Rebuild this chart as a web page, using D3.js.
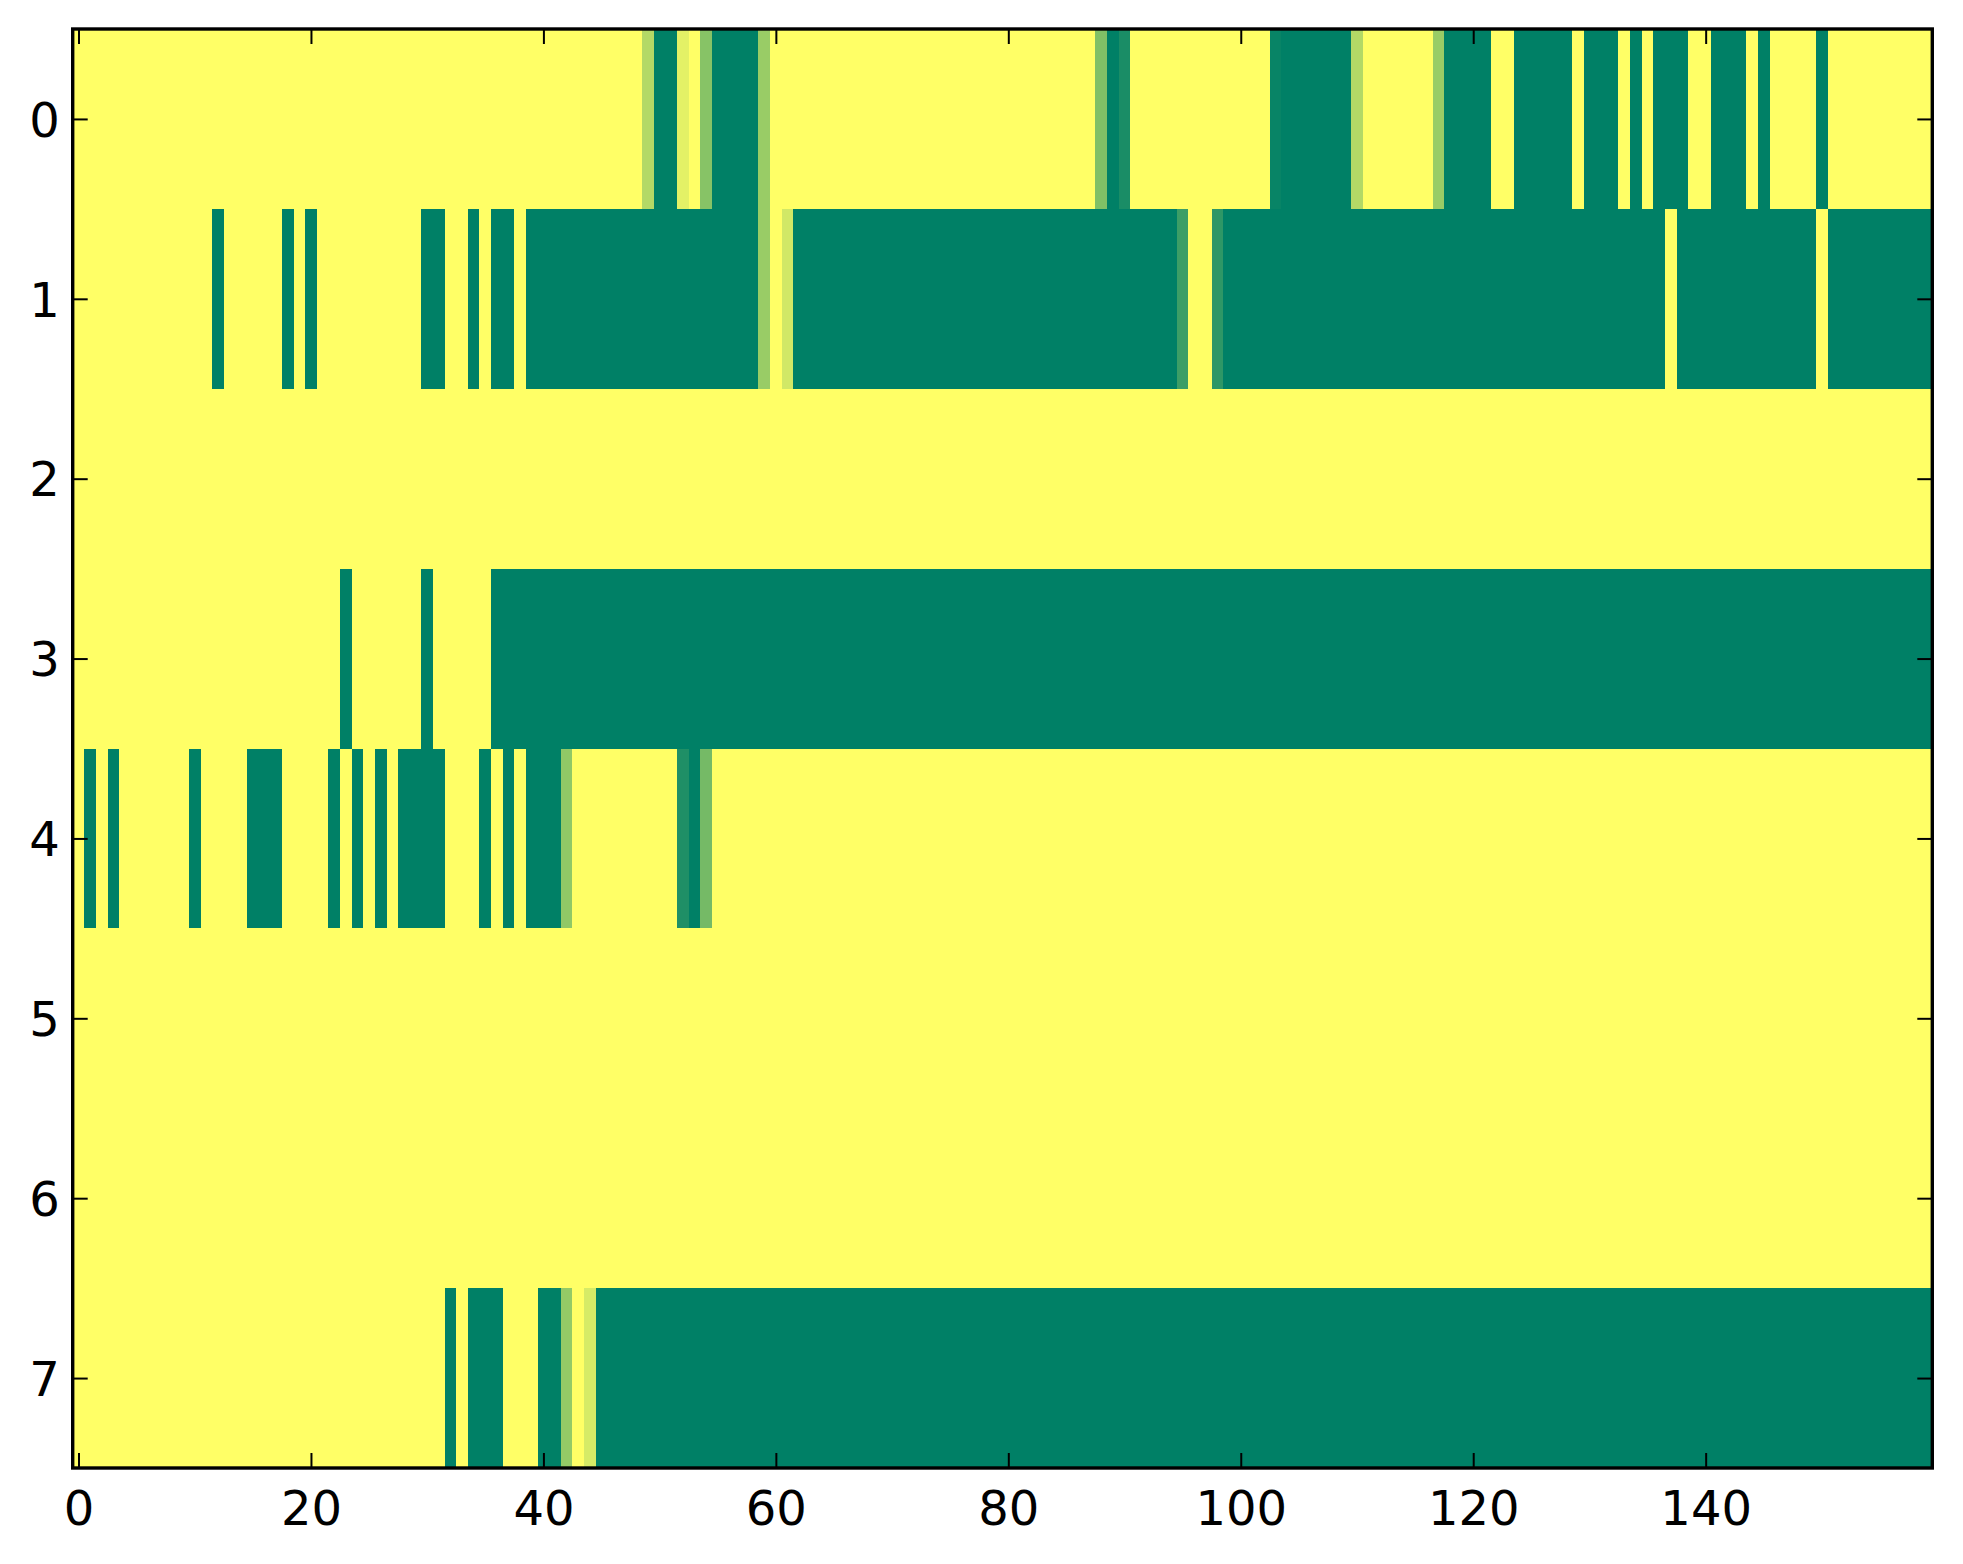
<!DOCTYPE html>
<html>
<head>
<meta charset="utf-8">
<script src="https://cdn.jsdelivr.net/npm/d3@7"></script>
<style>
  html, body { margin: 0; padding: 0; background: #ffffff; }
  svg { display: block; }
  text { font-family: "DejaVu Sans", sans-serif; }
</style>
</head>
<body>
<svg id="chart" width="1963" height="1564"></svg>
<script>
// ---- data (value 0 = green, 1 = yellow; "summer" colormap) ----
const rowLabels = [0, 1, 2, 3, 4, 5, 6, 7];
const xTickValues = [0, 20, 40, 60, 80, 100, 120, 140];

const row0 = [
  1,1,1,1,1,1,1,1,1,1,1,1,1,1,1,1,1,1,1,1,
  1,1,1,1,1,1,1,1,1,1,1,1,1,1,1,1,1,1,1,1,
  1,1,1,1,1,1,1,1,1,0.7,0,0,0.89,1,0.53,0,0,0,0,0.6,
  1,1,1,1,1,1,1,1,1,1,1,1,1,1,1,1,1,1,1,1,
  1,1,1,1,1,1,1,1,0.5,0,0.1,1,1,1,1,1,1,1,1,1,
  1,1,1,0.03,0,0,0,0,0,0,0.7,1,1,1,1,1,1,0.6,0,0,
  0,0,1,1,0,0,0,0,0,1,0,0,0,1,0,1,0,0,0,1,
  1,0,0,0,1,0,1,1,1,1,0,1,1,1,1,1,1,1,1,1
];
const row1 = [
  1,1,1,1,1,1,1,1,1,1,1,1,0,1,1,1,1,1,0,1,
  0,1,1,1,1,1,1,1,1,1,0,0,1,1,0,1,0,0,1,0,
  0,0,0,0,0,0,0,0,0,0,0,0,0,0,0,0,0,0,0,0.6,
  1,0.82,0,0,0,0,0,0,0,0,0,0,0,0,0,0,0,0,0,0,
  0,0,0,0,0,0,0,0,0,0,0,0,0,0,0,0.24,1,1,0.18,0,
  0,0,0,0,0,0,0,0,0,0,0,0,0,0,0,0,0,0,0,0,
  0,0,0,0,0,0,0,0,0,0,0,0,0,0,0,0,0,1,0,0,
  0,0,0,0,0,0,0,0,0,0,1,0,0,0,0,0,0,0,0,0
];
const row2 = [
  1,1,1,1,1,1,1,1,1,1,1,1,1,1,1,1,1,1,1,1,
  1,1,1,1,1,1,1,1,1,1,1,1,1,1,1,1,1,1,1,1,
  1,1,1,1,1,1,1,1,1,1,1,1,1,1,1,1,1,1,1,1,
  1,1,1,1,1,1,1,1,1,1,1,1,1,1,1,1,1,1,1,1,
  1,1,1,1,1,1,1,1,1,1,1,1,1,1,1,1,1,1,1,1,
  1,1,1,1,1,1,1,1,1,1,1,1,1,1,1,1,1,1,1,1,
  1,1,1,1,1,1,1,1,1,1,1,1,1,1,1,1,1,1,1,1,
  1,1,1,1,1,1,1,1,1,1,1,1,1,1,1,1,1,1,1,1
];
const row3 = [
  1,1,1,1,1,1,1,1,1,1,1,1,1,1,1,1,1,1,1,1,
  1,1,1,0,1,1,1,1,1,1,0,1,1,1,1,1,0,0,0,0,
  0,0,0,0,0,0,0,0,0,0,0,0,0,0,0,0,0,0,0,0,
  0,0,0,0,0,0,0,0,0,0,0,0,0,0,0,0,0,0,0,0,
  0,0,0,0,0,0,0,0,0,0,0,0,0,0,0,0,0,0,0,0,
  0,0,0,0,0,0,0,0,0,0,0,0,0,0,0,0,0,0,0,0,
  0,0,0,0,0,0,0,0,0,0,0,0,0,0,0,0,0,0,0,0,
  0,0,0,0,0,0,0,0,0,0,0,0,0,0,0,0,0,0,0,0
];
const row4 = [
  1,0,1,0,1,1,1,1,1,1,0,1,1,1,1,0,0,0,1,1,
  1,1,0,1,0,1,0,1,0,0,0,0,1,1,1,0,1,0,1,0,
  0,0,0.57,1,1,1,1,1,1,1,1,1,0.12,0,0.46,1,1,1,1,1,
  1,1,1,1,1,1,1,1,1,1,1,1,1,1,1,1,1,1,1,1,
  1,1,1,1,1,1,1,1,1,1,1,1,1,1,1,1,1,1,1,1,
  1,1,1,1,1,1,1,1,1,1,1,1,1,1,1,1,1,1,1,1,
  1,1,1,1,1,1,1,1,1,1,1,1,1,1,1,1,1,1,1,1,
  1,1,1,1,1,1,1,1,1,1,1,1,1,1,1,1,1,1,1,1
];
const row5 = row2.slice();
const row6 = row2.slice();
const row7 = [
  1,1,1,1,1,1,1,1,1,1,1,1,1,1,1,1,1,1,1,1,
  1,1,1,1,1,1,1,1,1,1,1,1,0,1,0,0,0,1,1,1,
  0,0,0.58,1,0.84,0,0,0,0,0,0,0,0,0,0,0,0,0,0,0,
  0,0,0,0,0,0,0,0,0,0,0,0,0,0,0,0,0,0,0,0,
  0,0,0,0,0,0,0,0,0,0,0,0,0,0,0,0,0,0,0,0,
  0,0,0,0,0,0,0,0,0,0,0,0,0,0,0,0,0,0,0,0,
  0,0,0,0,0,0,0,0,0,0,0,0,0,0,0,0,0,0,0,0,
  0,0,0,0,0,0,0,0,0,0,0,0,0,0,0,0,0,0,0,0
];
const rows = [row0, row1, row2, row3, row4, row5, row6, row7];

// ---- layout ----
const plotLeft = 72.7, plotRight = 1932.3, plotTop = 29, plotBottom = 1468;
const nCols = row0.length;

const x = d3.scaleLinear().domain([-0.5, nCols - 0.5]).range([plotLeft, plotRight]);
const y = d3.scaleLinear().domain([-0.5, rows.length - 0.5]).range([plotTop, plotBottom]);
const color = d3.scaleLinear().domain([0, 1]).range(["#008066", "#ffff66"]);

const svg = d3.select("#chart");

const cells = [];
rows.forEach((r, ri) => r.forEach((v, ci) => cells.push({ r: ri, c: ci, v })));

svg.append("g")
  .attr("shape-rendering", "crispEdges")
  .selectAll("rect")
  .data(cells)
  .join("rect")
  .attr("x", d => x(d.c - 0.5))
  .attr("y", d => y(d.r - 0.5))
  .attr("width", d => x(d.c + 0.5) - x(d.c - 0.5) + 0.6)
  .attr("height", d => y(d.r + 0.5) - y(d.r - 0.5) + 0.6)
  .attr("fill", d => color(d.v));

// ---- axes (classic style: inward ticks on all sides) ----
const fontSize = 48;
const tickLen = 15;

function styleAxis(g) {
  g.select(".domain").remove();
  g.selectAll(".tick line").attr("stroke", "#000").attr("stroke-width", 2);
  g.selectAll(".tick text").attr("fill", "#000").style("font-size", fontSize + "px")
    .style("font-family", "'DejaVu Sans', sans-serif");
}

svg.append("g")
  .attr("transform", `translate(0,${plotBottom})`)
  .call(d3.axisBottom(x).tickValues(xTickValues).tickSizeInner(-tickLen).tickSizeOuter(0).tickPadding(23).tickFormat(d3.format("d")))
  .call(styleAxis);

svg.append("g")
  .attr("transform", `translate(0,${plotTop})`)
  .call(d3.axisTop(x).tickValues(xTickValues).tickSizeInner(-tickLen).tickSizeOuter(0).tickFormat(""))
  .call(styleAxis);

svg.append("g")
  .attr("transform", `translate(${plotLeft},0)`)
  .call(d3.axisLeft(y).tickValues(rowLabels).tickSizeInner(-tickLen).tickSizeOuter(0).tickPadding(13).tickFormat(d3.format("d")))
  .call(styleAxis)
  .call(g => g.selectAll(".tick text").attr("dy", "0.36em"));

svg.append("g")
  .attr("transform", `translate(${plotRight},0)`)
  .call(d3.axisRight(y).tickValues(rowLabels).tickSizeInner(-tickLen).tickSizeOuter(0).tickFormat(""))
  .call(styleAxis);

// frame
svg.append("rect")
  .attr("x", plotLeft).attr("y", plotTop)
  .attr("width", plotRight - plotLeft).attr("height", plotBottom - plotTop)
  .attr("fill", "none").attr("stroke", "#000").attr("stroke-width", 3.4);
</script>
</body>
</html>
